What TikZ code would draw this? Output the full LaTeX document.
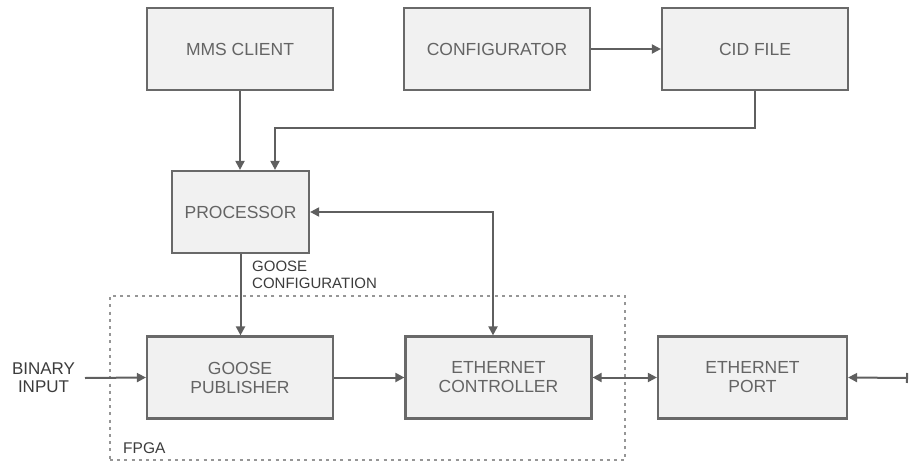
\documentclass[tikz,border=0pt]{standalone}
\usepackage{fontspec}
\setmainfont{Liberation Sans}
\usetikzlibrary{arrows.meta}
\definecolor{boxline}{RGB}{105,105,105}
\definecolor{boxfill}{RGB}{241,241,241}
\definecolor{boxtext}{RGB}{100,100,100}
\definecolor{labtext}{RGB}{60,60,60}
\definecolor{conn}{RGB}{95,95,95}
\definecolor{dotc}{RGB}{150,150,150}
\tikzset{
  blk/.style={draw=boxline, line width=2.2pt, fill=boxfill, inner sep=0pt,
    minimum width=186pt, minimum height=82pt, align=center,
    text=boxtext, font=\fontsize{17.5}{19}\selectfont},
  lab/.style={inner sep=0pt, text=labtext, font=\fontsize{15}{16.5}\selectfont},
  arr/.style={draw=conn, line width=2pt, -{Triangle[length=9pt,width=9pt]}},
  darr/.style={draw=conn, line width=2pt, {Triangle[length=9pt,width=9pt]}-{Triangle[length=9pt,width=9pt]}},
  fpgabox/.style={draw=dotc, line width=2.6pt, dash pattern=on 3pt off 4.2pt,
    inner sep=0pt, minimum width=515pt, minimum height=164pt}
}
\begin{document}
\begin{tikzpicture}[x=1pt,y=-1pt]
\useasboundingbox (0,0) rectangle (910,463);
\node[fpgabox] (fpga) at (367.5,378) {};
\node[lab, anchor=west, font=\fontsize{15.5}{17}\selectfont] (fpgalab) at (123,448) {FPGA};

\node[blk] (mms) at (240,49) {MMS CLIENT};
\node[blk] (cfg) at (497,49) {CONFIGURATOR};
\node[blk] (cid) at (755,49) {CID FILE};
\node[blk, minimum width=137pt] (proc) at (240.5,212) {PROCESSOR};
\node[blk] (pub) at (240,377.5) {GOOSE\\PUBLISHER};
\node[blk] (ctrl) at (498.5,377.5) {ETHERNET\\CONTROLLER};
\node[blk, minimum width=189pt] (port) at (752.5,377.5) {ETHERNET\\PORT};

\node[lab, align=left, anchor=west] (gcfg) at (252,275) {GOOSE\\CONFIGURATION};
\node[lab, align=center, font=\fontsize{17}{18}\selectfont] (bin) at (43.5,378) {BINARY\\INPUT};
\coordinate (binend) at (85,378);
\coordinate (rend) at (908,378);
\coordinate (cidk) at (275,128);
\coordinate (procr) at (493,212);

\draw[arr] (cfg.east) -- (cid.west);
\draw[arr] (mms.south) -- (mms.south |- proc.north);
\draw[arr] (cid.south) |- (cidk) -- (cidk |- proc.north);
\draw[darr] (proc.east |- procr) -- (procr) -- (procr |- ctrl.north);
\draw[arr] (proc.south) -- (proc.south |- pub.north);
\draw[arr] (binend) -- (pub.west);
\draw[arr] (pub.east) -- (ctrl.west);
\draw[darr] (ctrl.east) -- (port.west);
\draw[draw=conn, line width=2pt, {Bar[width=10pt]}-{Triangle[length=9pt,width=9pt]}] (rend) -- (port.east);
\end{tikzpicture}
\end{document}
